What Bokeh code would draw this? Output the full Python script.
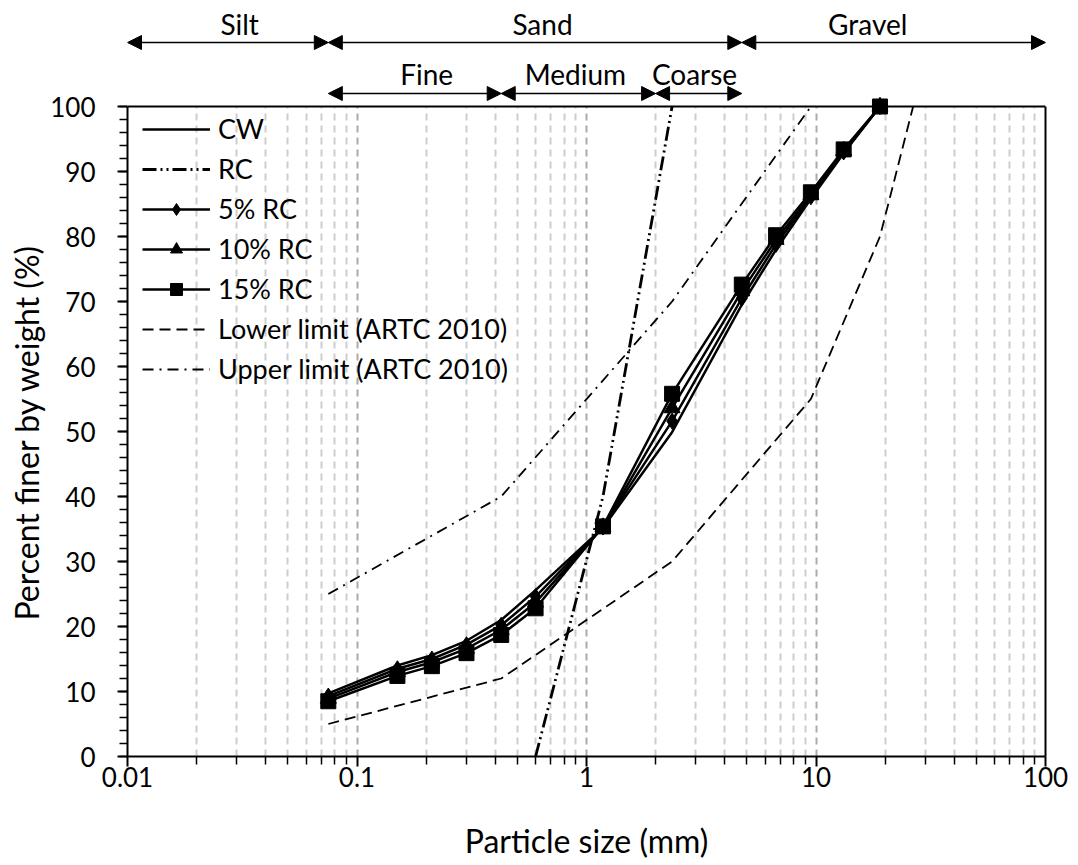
from bokeh.plotting import figure
from bokeh.models import (Range1d, FixedTicker, CustomJSTickFormatter, Legend, LegendItem,
                          Arrow, NormalHead, LinearAxis, Span, Title)
from bokeh.embed import file_html
from bokeh.resources import INLINE
from bokeh.core.properties import value

# ---------------- data ----------------
sizes = [0.075, 0.15, 0.212, 0.3, 0.425, 0.6, 1.18, 2.36, 4.75, 6.7, 9.5, 13.2, 19.0]
cw    = [9.7, 14.0, 15.6, 17.8, 21.0, 25.6, 35.2, 49.9, 69.5, 78.0, 85.8, 92.8, 100]
rc5   = [9.3, 13.5, 15.0, 17.2, 20.2, 24.6, 35.3, 51.6, 70.5, 78.8, 86.1, 93.0, 100]
rc10  = [8.9, 13.0, 14.5, 16.6, 19.5, 23.7, 35.3, 53.6, 71.6, 79.5, 86.4, 93.2, 100]
rc15  = [8.5, 12.4, 13.9, 15.9, 18.7, 22.8, 35.4, 55.8, 72.6, 80.2, 86.8, 93.4, 100]

rc_sizes = [0.6, 1.18, 2.36]
rc       = [0, 40, 100]

lower_sizes = [0.075, 0.425, 2.36, 9.5, 19.0, 26.5]
lower       = [5, 12, 30, 55, 80, 100]
upper_sizes = [0.075, 0.425, 2.36, 9.5]
upper       = [25, 40, 70, 100]

x_major_ticks = [0.01, 0.1, 1, 10, 100]
x_minor_ticks = [m * 10.0 ** e for e in range(-2, 2) for m in range(2, 10)]
y_major_ticks = list(range(0, 101, 10))
y_minor_ticks = list(range(0, 101, 2))

# soil classes (boundaries in mm)
class_bounds = [0.01, 0.075, 4.75, 100]
class_names = ["Silt", "Sand", "Gravel"]
sand_bounds = [0.075, 0.425, 2.0, 4.75]
sand_names = ["Fine", "Medium", "Coarse"]
class_label_x = [0.0308, 0.643, 16.8]
sand_label_x = [0.201, 0.895, 2.955]

# ---------------- geometry ----------------
FONT = "Lato"
W, H = 1072, 864
LEFT, RIGHT, BOTTOM = 127, 27, 108
PLOT_PX = 650.0            # pixel height of the 0..100 % band
TOP_PX = 106.0             # pixels above the 100 % line for the class arrows
PPU = PLOT_PX / 100.0


def above(px):
    """data y for a point `px` pixels above the 100 % line"""
    return 100 + px / PPU


p = figure(width=W, height=H, x_axis_type="log",
           x_range=Range1d(0.01, 100), y_range=Range1d(0, above(TOP_PX)),
           output_backend="svg", toolbar_location=None, min_border=0,
           min_border_left=LEFT, min_border_right=RIGHT, min_border_top=0,
           min_border_bottom=BOTTOM)
p.outline_line_color = None
p.background_fill_color = "white"

# ---------------- axes ----------------
xticker = FixedTicker(ticks=x_major_ticks, minor_ticks=x_minor_ticks)
p.xaxis.ticker = xticker
p.xaxis.formatter = CustomJSTickFormatter(code="return String(tick)")
p.yaxis.ticker = FixedTicker(ticks=y_major_ticks, minor_ticks=y_minor_ticks)
p.yaxis.bounds = (0, 100)

for ax in (p.xaxis[0], p.yaxis[0]):
    ax.axis_line_width = 2
    ax.axis_line_color = "black"
    ax.major_tick_line_color = "black"
    ax.minor_tick_line_color = "black"
    ax.major_tick_line_width = 2
    ax.minor_tick_line_width = 1.5
    ax.major_tick_in = 0
    ax.minor_tick_in = 0
    ax.major_tick_out = 10
    ax.minor_tick_out = 8
    ax.major_label_text_font = FONT
    ax.major_label_text_font_size = "26px"
    ax.major_label_text_color = "black"
    ax.axis_label_text_font = FONT
    ax.axis_label_text_font_size = "32px"
    ax.axis_label_text_font_style = "normal"
    ax.axis_label_text_color = "black"

p.xaxis.axis_label = "Particle size (mm)"
p.xaxis.major_label_standoff = 0
p.xaxis.axis_label_standoff = 31
p.yaxis.major_label_standoff = 22

# y title: a left-side title placed over the 0..100 % band
p.add_layout(Title(text="Percent finer by weight (%)", align="left", offset=136,
                   text_font=FONT, text_font_size="32px", text_font_style="normal",
                   text_color="black", standoff=4), "left")

# right border as a bare axis limited to the 0..100 band, top border as a span
right = LinearAxis(bounds=(0, 100), ticker=FixedTicker(ticks=[]), axis_line_width=2,
                   axis_line_color="black", major_tick_out=0, minor_tick_out=0,
                   major_label_text_font_size="0px")
p.add_layout(right, "right")
p.add_layout(Span(location=100, dimension="width", line_color="black", line_width=2))

# ---------------- grid ----------------
p.ygrid.visible = False
g = p.xgrid[0]
GRID_MAJOR, GRID_MINOR = "#ababab", "#cdcdcd"
if "cross_bounds" in g.properties():
    g.ticker = xticker
    g.cross_bounds = (0, 100)
    g.grid_line_color = GRID_MAJOR
    g.grid_line_width = 2
    g.grid_line_dash = "7 5"
    g.minor_grid_line_color = GRID_MINOR
    g.minor_grid_line_width = 2
    g.minor_grid_line_dash = "7 5"
else:
    g.visible = False
    p.segment(x0=x_minor_ticks, y0=[0] * len(x_minor_ticks), x1=x_minor_ticks,
              y1=[100] * len(x_minor_ticks), line_color=GRID_MINOR, line_width=2,
              line_dash="7 5", level="underlay")
    p.segment(x0=x_major_ticks, y0=[0] * len(x_major_ticks), x1=x_major_ticks,
              y1=[100] * len(x_major_ticks), line_color=GRID_MAJOR, line_width=2,
              line_dash="7 5", level="underlay")

# ---------------- class arrows ----------------
ROW1_Y, ROW2_Y = above(64), above(13)
TXT1_Y, TXT2_Y = above(83), above(33)
for bounds, yy in ((class_bounds, ROW1_Y), (sand_bounds, ROW2_Y)):
    for a, b in zip(bounds[:-1], bounds[1:]):
        p.add_layout(Arrow(
            start=NormalHead(size=14, fill_color="black", line_color="black", line_width=1),
            end=NormalHead(size=14, fill_color="black", line_color="black", line_width=1),
            x_start=a, x_end=b, y_start=yy, y_end=yy, line_width=1.5, line_color="black"))

p.text(x=class_label_x, y=[TXT1_Y] * 3, text=class_names, text_align="center",
       text_baseline="alphabetic", text_font=value(FONT), text_font_size="28px",
       text_color="black")
p.text(x=sand_label_x, y=[TXT2_Y] * 3, text=sand_names, text_align="center",
       text_baseline="alphabetic", text_font=value(FONT), text_font_size="28px",
       text_color="black")

# ---------------- series ----------------
LW = 2.5
r_cw = p.line(sizes, cw, line_color="black", line_width=LW)
r_rc = p.line(rc_sizes, rc, line_color="black", line_width=2.8, line_dash="14 4 2 4 2 4")
r_lo = p.line(lower_sizes, lower, line_color="black", line_width=1.8, line_dash="11 6")
r_up = p.line(upper_sizes, upper, line_color="black", line_width=1.8, line_dash="11 6 2 6")

r5l = p.line(sizes, rc5, line_color="black", line_width=LW)
r5m = p.scatter(sizes, rc5, marker="diamond", size=16, fill_color="black", line_color="black")
r10l = p.line(sizes, rc10, line_color="black", line_width=LW)
r10m = p.scatter(sizes, rc10, marker="triangle", size=16, fill_color="black", line_color="black")
r15l = p.line(sizes, rc15, line_color="black", line_width=LW)
r15m = p.scatter(sizes, rc15, marker="square", size=15, fill_color="black", line_color="black")

legend = Legend(items=[
    LegendItem(label="CW", renderers=[r_cw]),
    LegendItem(label="RC", renderers=[r_rc]),
    LegendItem(label="5% RC", renderers=[r5l, r5m]),
    LegendItem(label="10% RC", renderers=[r10l, r10m]),
    LegendItem(label="15% RC", renderers=[r15l, r15m]),
    LegendItem(label="Lower limit (ARTC 2010)", renderers=[r_lo]),
    LegendItem(label="Upper limit (ARTC 2010)", renderers=[r_up]),
], location=(15, 371))
legend.background_fill_alpha = 0
legend.border_line_color = None
legend.label_text_font = FONT
legend.label_text_font_size = "27px"
legend.label_text_color = "black"
legend.glyph_width = 68
legend.glyph_height = 30
legend.label_height = 30
legend.label_standoff = 8
legend.spacing = 7
legend.padding = 5
legend.margin = 0
p.add_layout(legend)

open("out.html", "w").write(file_html(p, INLINE))
